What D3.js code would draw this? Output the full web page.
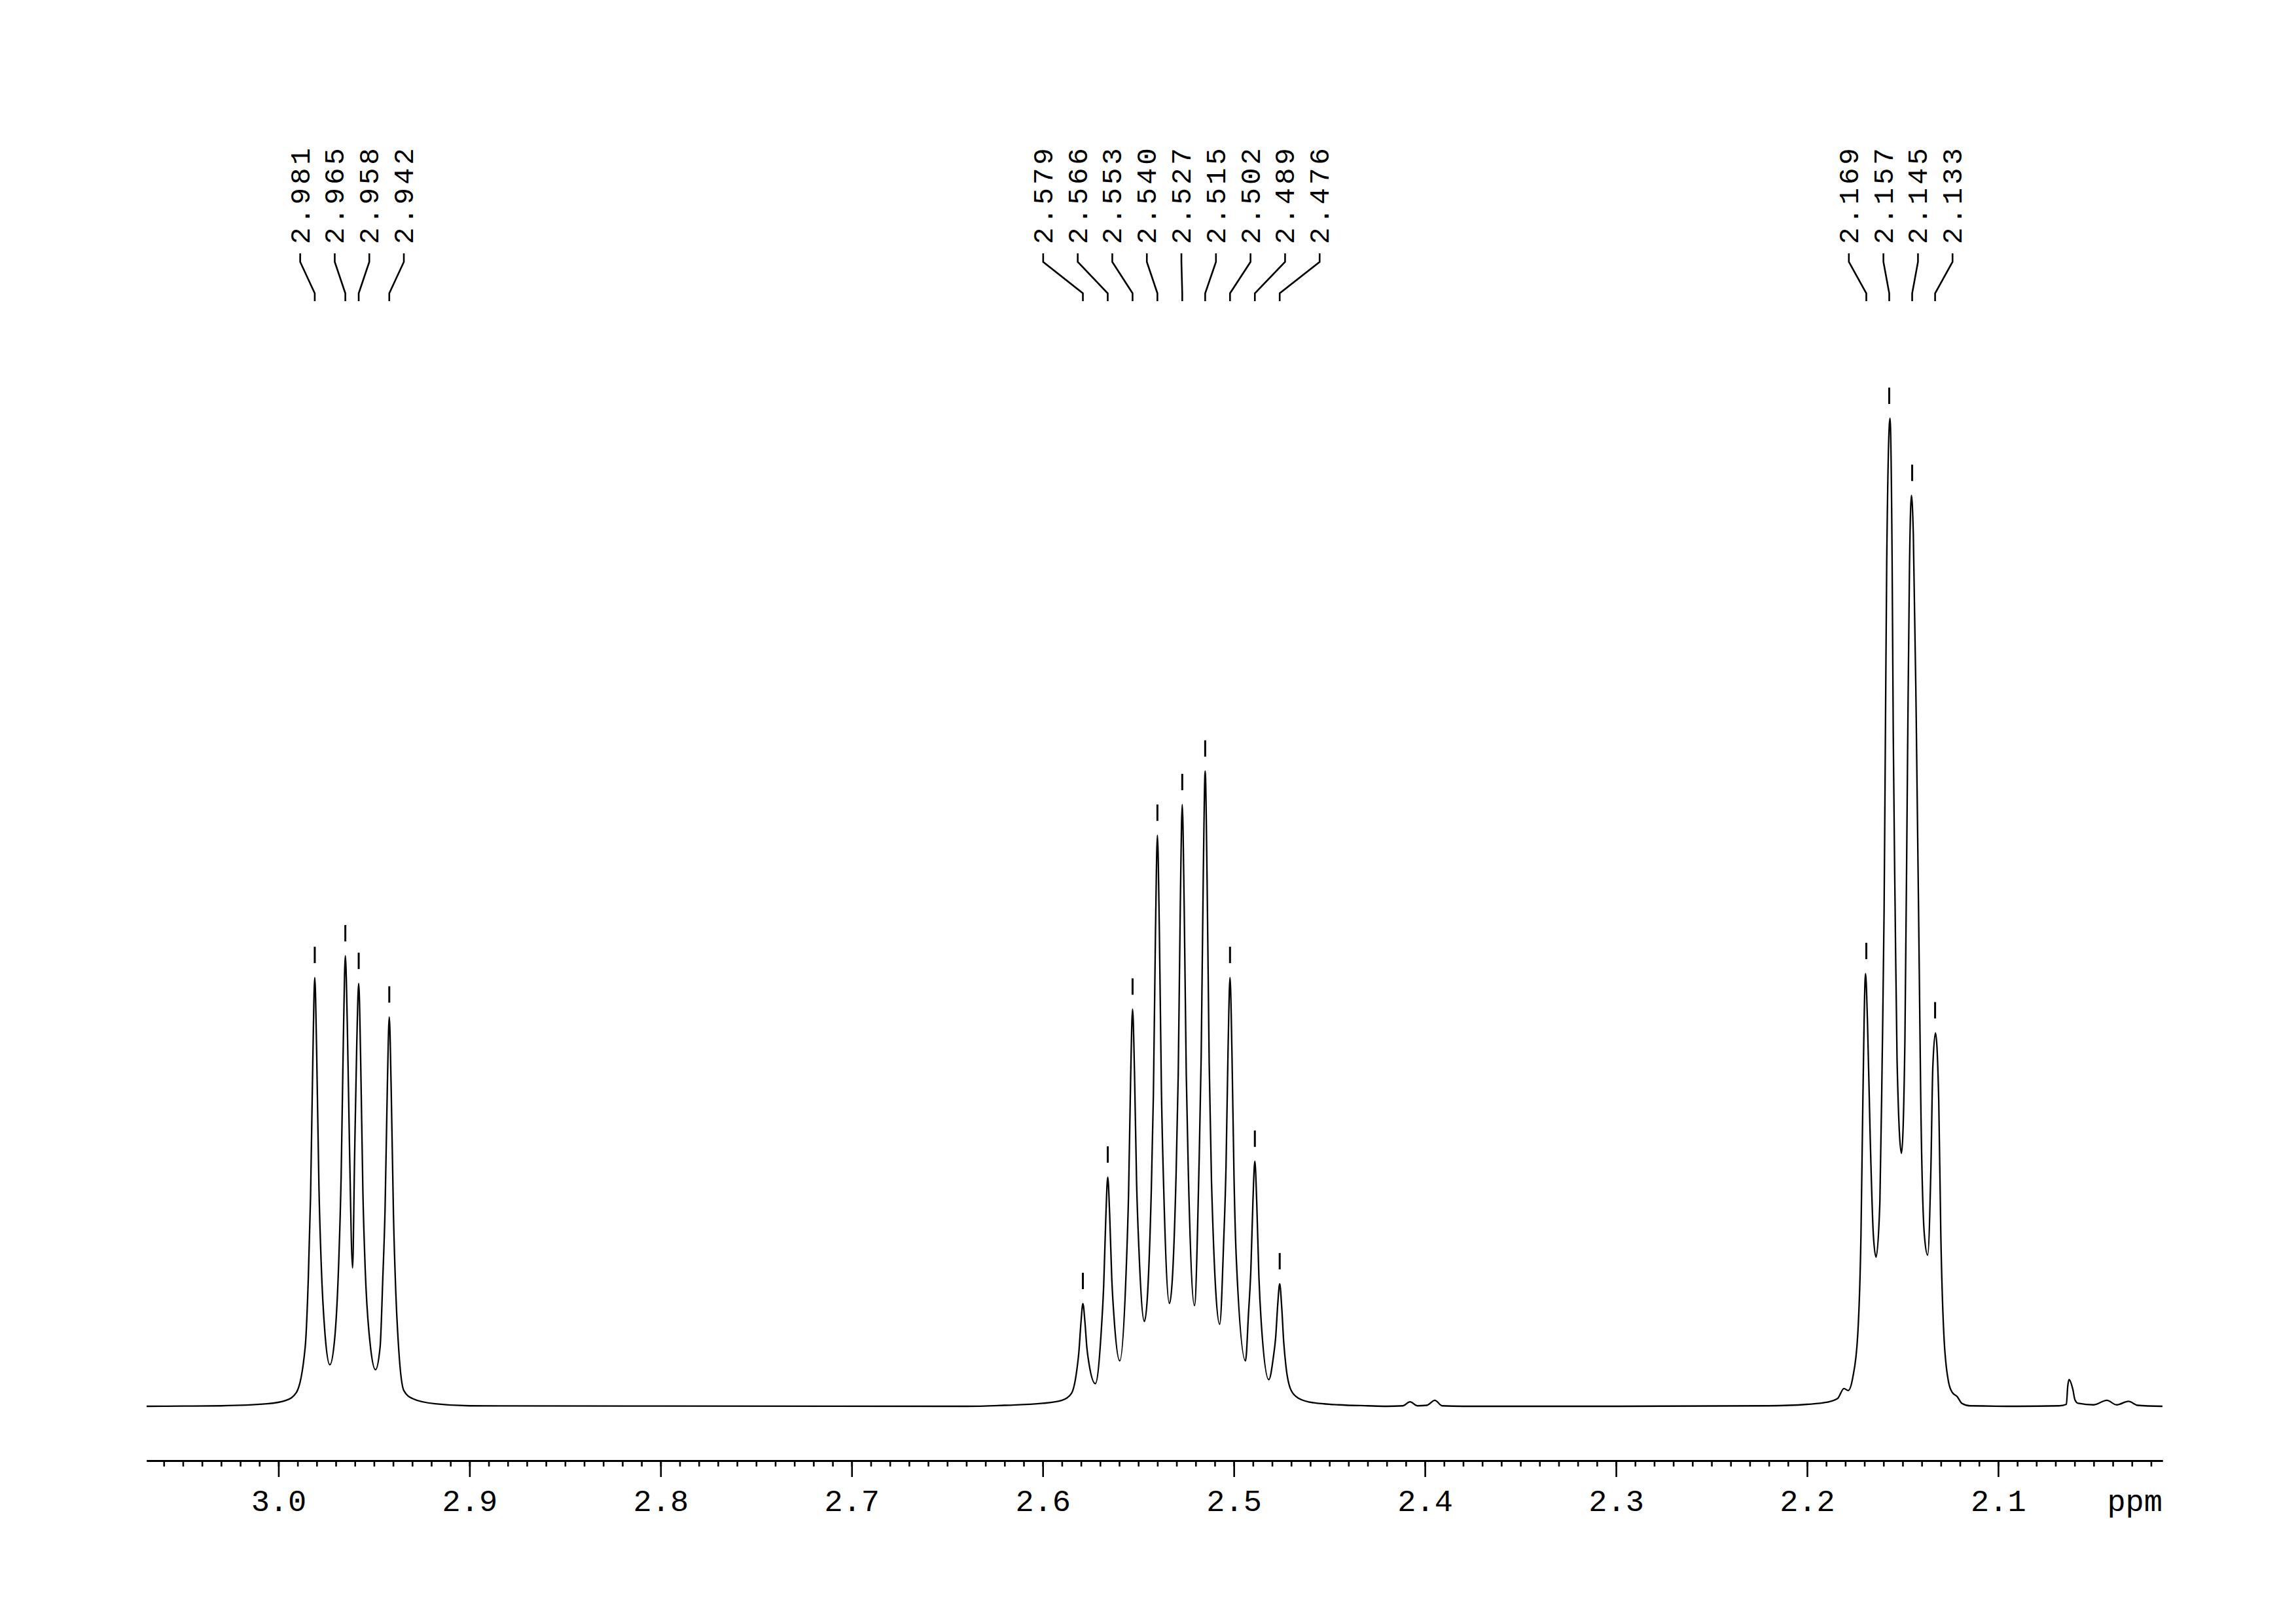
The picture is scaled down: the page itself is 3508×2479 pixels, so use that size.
<!DOCTYPE html>
<html>
<head>
<meta charset="utf-8">
<script src="https://cdn.jsdelivr.net/npm/d3@7/dist/d3.min.js"></script>
<style>
  html, body { margin: 0; padding: 0; background: #ffffff; }
  svg { display: block; }
</style>
</head>
<body>
<script>
// ---------------- DATA ----------------
// Picked peak positions (ppm) and their heights (relative intensity, tallest = 100)
const peakPpm    = [2.981, 2.965, 2.958, 2.942,
                    2.579, 2.566, 2.553, 2.540, 2.527, 2.515, 2.502, 2.489, 2.476,
                    2.169, 2.157, 2.145, 2.133];
const peakHeight = [43.4, 45.6, 42.8, 39.4,
                    10.4, 23.2, 40.2, 57.8, 60.9, 64.3, 43.4, 24.8, 12.4,
                    43.8, 100, 92.2, 37.8];

// Axis tick labels (ppm)
const tickLabels = ["3.0", "2.9", "2.8", "2.7", "2.6", "2.5", "2.4", "2.3", "2.2", "2.1"];
const axisUnit = "ppm";

// Spectrum trace, [ppm, intensity] pairs
const baselineLeft = [[3.069, 0], [3.050, 0.02], [3.030, 0.05], [3.006, 0.25], [2.996, 0.6]];
const multiplet298 = [
  [2.9906, 1.4], [2.986, 6.0], [2.9844, 12.8], [2.9832, 21.2], [2.982, 35.2], [2.981, 43.4],
  [2.980, 35.8], [2.9788, 22.1], [2.9776, 14.3], [2.9755, 7.0], [2.9731, 4.2],
  [2.9705, 7.0], [2.9684, 14.9], [2.9672, 23.2], [2.966, 37.5], [2.965, 45.6],
  [2.964, 39.0], [2.9628, 26.1], [2.9612, 14.0],
  [2.9602, 24.7], [2.959, 36.8], [2.958, 42.8],
  [2.957, 35.3], [2.9558, 21.6], [2.9546, 13.9], [2.952, 6.3], [2.9492, 3.7],
  [2.9468, 6.0], [2.9454, 12.9], [2.9442, 20.0], [2.943, 32.5], [2.942, 39.4],
  [2.941, 32.1], [2.9398, 19.3], [2.9386, 11.6], [2.937, 5.6], [2.9344, 1.6],
  [2.930, 0.8], [2.918, 0.25], [2.900, 0.05]
];
const multiplet253 = [
  [2.640, 0], [2.620, 0.1], [2.600, 0.3], [2.590, 0.6], [2.585, 1.3],
  [2.5823, 3.5], [2.5811, 5.5], [2.580, 8.5], [2.579, 10.4],
  [2.578, 8.7], [2.5769, 5.9], [2.5757, 4.2], [2.5725, 2.3],
  [2.5693, 7.9], [2.5681, 12.3], [2.567, 19.1], [2.566, 23.2],
  [2.565, 19.5], [2.5639, 13.0], [2.5627, 9.0], [2.5597, 4.6],
  [2.5563, 14.0], [2.5551, 21.5], [2.554, 33.3], [2.553, 40.2],
  [2.552, 33.9], [2.5509, 22.7], [2.5497, 16.0], [2.5468, 8.6],
  [2.5433, 21.1], [2.5421, 31.5], [2.541, 48.1], [2.540, 57.8],
  [2.539, 48.4], [2.5379, 32.0], [2.5367, 22.0], [2.5337, 10.4],
  [2.5303, 22.9], [2.5291, 33.6], [2.528, 50.9], [2.527, 60.9],
  [2.526, 50.8], [2.5249, 33.6], [2.5237, 22.8], [2.5206, 10.2],
  [2.5183, 23.7], [2.5171, 35.3], [2.516, 53.6], [2.515, 64.3],
  [2.514, 53.3], [2.5129, 34.7], [2.5117, 22.8], [2.5074, 8.3],
  [2.5053, 16.8], [2.5041, 24.2], [2.503, 36.4], [2.502, 43.4],
  [2.501, 35.9], [2.4999, 23.1], [2.4987, 14.9], [2.4939, 4.6],
  [2.4923, 9.5], [2.4911, 13.8], [2.490, 20.8], [2.489, 24.8],
  [2.488, 20.5], [2.4869, 13.2], [2.4857, 8.6], [2.4817, 2.7],
  [2.4793, 5.0], [2.4781, 7.0], [2.477, 10.4], [2.476, 12.4],
  [2.475, 10.2], [2.4739, 6.5], [2.4727, 4.0], [2.470, 1.6], [2.466, 0.8],
  [2.458, 0.35], [2.445, 0.15], [2.430, 0.05]
];
const baselineMiddle = [
  [2.420, 0], [2.4115, 0.05], [2.4078, 0.45], [2.404, 0.05], [2.399, 0.1],
  [2.3948, 0.6], [2.391, 0.05], [2.380, 0], [2.300, 0], [2.220, 0.05], [2.200, 0.2]
];
const multiplet215 = [
  [2.190, 0.4], [2.184, 0.8], [2.1807, 1.8], [2.1785, 1.6], [2.1761, 2.9],
  [2.1735, 7.2], [2.1718, 17.3], [2.1708, 31.0], [2.1694, 43.8],
  [2.1684, 39.0], [2.167, 27.5], [2.1653, 17.3], [2.1639, 15.1],
  [2.1619, 20.7], [2.1607, 35.0], [2.1597, 50.0], [2.1590, 68.1], [2.1583, 85.8], [2.1566, 100],
  [2.1555, 85.8], [2.1549, 68.1], [2.1539, 50.0], [2.1529, 35.0], [2.1506, 25.6],
  [2.1488, 37.0], [2.1474, 66.0], [2.1464, 85.0], [2.1454, 92.2],
  [2.1444, 88.3], [2.1429, 70.0], [2.1413, 44.4], [2.1405, 31.0], [2.1386, 17.3], [2.1369, 15.3],
  [2.1352, 24.1], [2.1342, 34.3], [2.1328, 37.8],
  [2.1311, 31.0], [2.1300, 17.3], [2.1284, 7.2], [2.1260, 2.5], [2.124, 1.4],
  [2.1215, 1.0], [2.119, 0.3], [2.1147, 0.05]
];
const baselineRight = [
  [2.090, 0], [2.068, 0.05], [2.0643, 0.2], [2.0636, 2.0], [2.0629, 2.7],
  [2.0609, 1.7], [2.0598, 0.65], [2.0581, 0.3], [2.050, 0.15], [2.0431, 0.6],
  [2.038, 0.15], [2.0318, 0.5], [2.027, 0.1], [2.014, 0]
];

// ---------------- DRAWING ----------------
const W = 3508, H = 2479;
const FONT = "'Liberation Mono', 'DejaVu Sans Mono', monospace";

const x = d3.scaleLinear().domain([3.069, 2.014]).range([224, 3304]);
const y = d3.scaleLinear().domain([0, 100]).range([2148, 639]);
const axisY = 2231;

const svg = d3.select("body").append("svg")
  .attr("width", W).attr("height", H)
  .attr("viewBox", `0 0 ${W} ${H}`);
svg.append("rect").attr("width", W).attr("height", H).attr("fill", "#ffffff");

// Spectrum line
const spectrum = [].concat(baselineLeft, multiplet298, multiplet253, baselineMiddle, multiplet215, baselineRight)
  .sort((a, b) => b[0] - a[0]);
svg.append("path")
  .datum(spectrum)
  .attr("fill", "none")
  .attr("stroke", "#000")
  .attr("stroke-width", 2.3)
  .attr("stroke-linejoin", "round")
  .attr("d", d3.line().x(d => x(d[0])).y(d => y(d[1])).curve(d3.curveMonotoneX));

// Peak markers above each peak
svg.append("g").selectAll("line")
  .data(peakPpm.map((p, i) => ({ p, h: peakHeight[i] })))
  .join("line")
  .attr("x1", d => x(d.p)).attr("x2", d => x(d.p))
  .attr("y1", d => y(d.h) - 47).attr("y2", d => y(d.h) - 22)
  .attr("stroke", "#000").attr("stroke-width", 3);

// Axis: minor ticks every 0.01 ppm, major every 0.1 ppm
const majorVals = tickLabels.map(Number);
const minorVals = d3.range(306, 201, -1).map(v => v / 100);

const minorAxis = svg.append("g").attr("transform", `translate(0,${axisY})`)
  .call(d3.axisBottom(x).tickValues(minorVals).tickSize(9).tickSizeOuter(0).tickFormat(""));
const majorAxis = svg.append("g").attr("transform", `translate(0,${axisY})`)
  .call(d3.axisBottom(x).tickValues(majorVals).tickSize(25).tickSizeOuter(0)
        .tickFormat((d, i) => tickLabels[i]));
[minorAxis, majorAxis].forEach(g => {
  g.select(".domain").attr("stroke", "#000").attr("stroke-width", 3);
  g.selectAll(".tick line").attr("stroke", "#000").attr("stroke-width", 2.6);
});
majorAxis.selectAll(".tick text")
  .attr("y", 77).attr("dy", 0)
  .attr("fill", "#000")
  .style("font-family", FONT)
  .style("font-size", "47px");
svg.append("text")
  .attr("x", x.range()[1]).attr("y", axisY + 77)
  .attr("text-anchor", "end")
  .style("font-family", FONT).style("font-size", "47px")
  .attr("fill", "#000")
  .text(axisUnit);

// Peak labels: spread horizontally with a minimum gap, centred on each cluster of peaks
function spreadLabels(xs, gap) {
  let clusters = xs.map((v, i) => ({ idx: [i], center: v }));
  let merged = true;
  while (merged) {
    merged = false;
    for (let i = 0; i < clusters.length - 1; i++) {
      const a = clusters[i], b = clusters[i + 1];
      const aRight = a.center + (a.idx.length - 1) / 2 * gap;
      const bLeft = b.center - (b.idx.length - 1) / 2 * gap;
      if (bLeft - aRight < gap) {
        const idx = a.idx.concat(b.idx);
        clusters.splice(i, 2, { idx, center: d3.mean(idx, j => xs[j]) });
        merged = true;
        break;
      }
    }
  }
  const out = new Array(xs.length);
  clusters.forEach(c => c.idx.forEach((j, k) => {
    out[j] = c.center + (k - (c.idx.length - 1) / 2) * gap;
  }));
  return out;
}

const peaks = peakPpm.map((p, i) => ({ p, px: x(p) })).sort((a, b) => a.px - b.px);
const labelX = spreadLabels(peaks.map(d => d.px), 52.8);
peaks.forEach((d, i) => d.lx = labelX[i]);

const labelG = svg.append("g");
labelG.selectAll("path")
  .data(peaks)
  .join("path")
  .attr("fill", "none").attr("stroke", "#000").attr("stroke-width", 2.6)
  .attr("d", d => `M${d.lx},387 V400 L${d.px},448 V460`);
labelG.selectAll("text")
  .data(peaks)
  .join("text")
  .attr("transform", d => `translate(${d.lx + 14},373) rotate(-90)`)
  .attr("text-anchor", "start")
  .style("font-family", FONT)
  .style("font-size", "42.5px")
  .style("letter-spacing", "4.8px")
  .attr("fill", "#000")
  .text(d => d.p.toFixed(3));
</script>
</body>
</html>
